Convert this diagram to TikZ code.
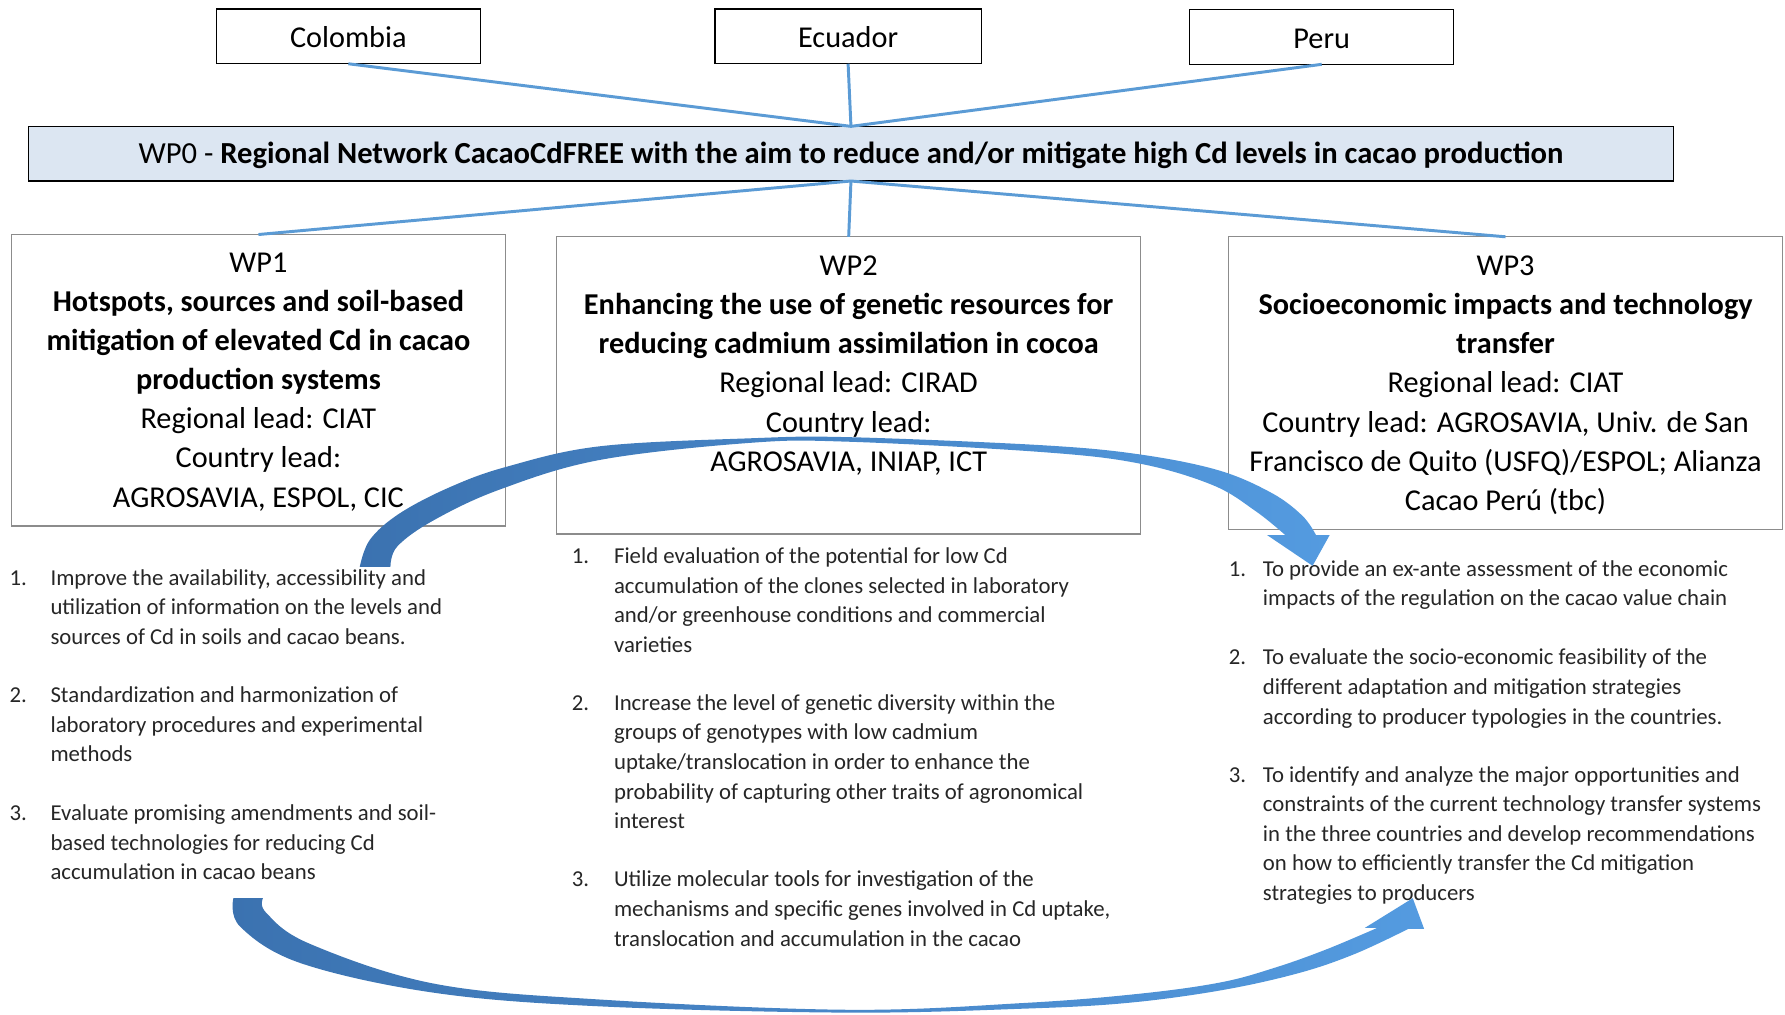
\documentclass[tikz,border=0pt]{standalone}
\usepackage{fontspec}
\setmainfont{Carlito}
\definecolor{connblue}{HTML}{5B9BD5}
\definecolor{wpfill}{HTML}{DCE6F2}
\definecolor{boxgray}{HTML}{8C8C8C}
\definecolor{listgray}{HTML}{262626}
\definecolor{arrdark}{HTML}{3B72B0}
\definecolor{arrlight}{HTML}{549BE0}
\newcommand\bxfont{\fontsize{13.3}{17.2}\selectfont}
\newcommand\barfont{\fontsize{13.45}{17.2}\selectfont}
\newcommand\lsfont{\fontsize{10}{13}\selectfont}
\begin{document}
\begin{tikzpicture}[x=0.5pt,y=-0.5pt,
  country/.style={draw=black,line width=0.6pt,fill=white,minimum width=116pt,minimum height=24pt,inner sep=0pt,outer sep=0pt,font=\bxfont,text height=11pt,text depth=1pt},
  wpbar/.style={draw=black,line width=0.6pt,fill=wpfill,minimum width=722.5pt,minimum height=24pt,inner sep=0pt,outer sep=0pt,font=\barfont,text height=10.5pt,text depth=1.5pt},
  wpbox/.style={draw=boxgray,line width=0.6pt,inner sep=0pt,outer sep=0pt},
  boxtxt/.style={anchor=base,font=\bxfont,inner sep=0pt},
  listtxt/.style={anchor=base west,font=\lsfont,text=listgray,inner sep=0pt},
  conn/.style={draw=connblue,line width=1.3pt},
  bigarrow/.style={left color=arrdark,right color=arrlight}]
\useasboundingbox (0,0) rectangle (1568,891);

% country boxes
\node[country] (col) at (306,32) {Colombia};
\node[country,minimum width=117pt] (ecu) at (745,32) {Ecuador};
\node[country] (per) at (1161,32.5) {Peru};

% WP0 bar
\node[wpbar] (wp0) at (747.5,135) {WP0 - \textbf{Regional Network CacaoCdFREE with the aim to reduce and/or mitigate high Cd levels in cacao production}};

% WP boxes
\node[wpbox,minimum width=217pt,minimum height=128pt] (wp1) at (227,334) {};
\node[wpbox,minimum width=256.5pt,minimum height=130.5pt] (wp2) at (745.5,338.5) {};
\node[wpbox,minimum width=243.5pt,minimum height=128.5pt] (wp3) at (1322.5,336.5) {};

% connectors
\draw[conn] (col.south) -- (wp0.north);
\draw[conn] (ecu.south) -- (wp0.north);
\draw[conn] (per.south) -- (wp0.north);
\draw[conn] (wp0.south) -- (wp1.north);
\draw[conn] (wp0.south) -- (wp2.north);
\draw[conn] (wp0.south) -- (wp3.north);

% WP box texts
\foreach \t [count=\i from 0] in {{WP1},{\bfseries Hotspots, sources and soil-based},{\bfseries mitigation of elevated Cd in cacao},{\bfseries production systems},{Regional lead: CIAT},{Country lead:},{AGROSAVIA, ESPOL, CIC}}
  \node[boxtxt] (wpa\i) at (227,{239+34.4*\i}) {\t};
\foreach \t [count=\i from 0] in {{WP2},{\bfseries Enhancing the use of genetic resources for},{\bfseries reducing cadmium assimilation in cocoa},{Regional lead: CIRAD},{Country lead:},{AGROSAVIA, INIAP, ICT}}
  \node[boxtxt] (wpb\i) at (745.5,{242+34.4*\i}) {\t};
\foreach \t [count=\i from 0] in {{WP3},{\bfseries Socioeconomic impacts and technology},{\bfseries transfer},{Regional lead: CIAT},{Country lead: AGROSAVIA, Univ. de San},{Francisco de Quito (USFQ)/ESPOL; Alianza},{Cacao Perú (tbc)}}
  \node[boxtxt] (wpc\i) at (1322.5,{242+34.4*\i}) {\t};

% WP1 list
\node[listtxt] (n11) at (8,514) {1.};
\node[listtxt] (n12) at (8,617) {2.};
\node[listtxt] (n13) at (8,721) {3.};
\foreach \t [count=\i from 0] in {{Improve the availability, accessibility and},{utilization of information on the levels and},{sources of Cd in soils and cacao beans.}}
  \node[listtxt] (la\i) at (44,{514+26*\i}) {\t};
\foreach \t [count=\i from 0] in {{Standardization and harmonization of},{laboratory procedures and experimental},{methods}}
  \node[listtxt] (lb\i) at (44,{617+26*\i}) {\t};
\foreach \t [count=\i from 0] in {{Evaluate promising amendments and soil-},{based technologies for reducing Cd},{accumulation in cacao beans}}
  \node[listtxt] (lc\i) at (44,{721+26*\i}) {\t};

% WP2 list
\node[listtxt] (n21) at (502,495) {1.};
\node[listtxt] (n22) at (502,624) {2.};
\node[listtxt] (n23) at (502,779) {3.};
\foreach \t [count=\i from 0] in {{Field evaluation of the potential for low Cd},{accumulation of the clones selected in laboratory},{and/or greenhouse conditions and commercial},{varieties}}
  \node[listtxt] (ld\i) at (539,{495+26*\i}) {\t};
\foreach \t [count=\i from 0] in {{Increase the level of genetic diversity within the},{groups of genotypes with low cadmium},{uptake/translocation in order to enhance the},{probability of capturing other traits of agronomical},{interest}}
  \node[listtxt] (le\i) at (539,{624+26*\i}) {\t};
\foreach \t [count=\i from 0] in {{Utilize molecular tools for investigation of the},{mechanisms and specific genes involved in Cd uptake,},{translocation and accumulation in the cacao}}
  \node[listtxt] (lf\i) at (539,{779+26*\i}) {\t};

% WP3 list
\node[listtxt] (n31) at (1079,506) {1.};
\node[listtxt] (n32) at (1079,584) {2.};
\node[listtxt] (n33) at (1079,687) {3.};
\foreach \t [count=\i from 0] in {{To provide an ex-ante assessment of the economic},{impacts of the regulation on the cacao value chain}}
  \node[listtxt] (lg\i) at (1109,{506+26*\i}) {\t};
\foreach \t [count=\i from 0] in {{To evaluate the socio-economic feasibility of the},{different adaptation and mitigation strategies},{according to producer typologies in the countries.}}
  \node[listtxt] (lh\i) at (1109,{584+26*\i}) {\t};
\foreach \t [count=\i from 0] in {{To identify and analyze the major opportunities and},{constraints of the current technology transfer systems},{in the three countries and develop recommendations},{on how to efficiently transfer the Cd mitigation},{strategies to producers}}
  \node[listtxt] (li\i) at (1109,{687+26*\i}) {\t};

% top curved arrow (WP1 -> WP3)
\shade[bigarrow] plot[smooth,tension=0.6] coordinates {(316,498) (325,474) (351,451) (395,428) (445,410) (527,392) (659,385) (745,384) (914,391) (1000,399) (1070,413) (1117,433) (1144,453) (1156,470)}
  -- (1168,470) -- (1153,497) -- (1113,470)
  -- plot[smooth,tension=0.6] coordinates {(1129,470) (1103,449) (1065,426) (1000,407) (914,397) (745,388) (659,389) (527,404) (439,430) (381,457) (349,480) (343,498)} -- cycle;

% bottom curved arrow (WP1 -> WP3)
\shade[bigarrow] plot[smooth,tension=0.6] coordinates {(231,789) (234,802) (272,829) (381,864) (527,878) (745,887) (900,881) (1000,873) (1072,863) (1120,850) (1165,834) (1210,815)}
  -- (1199,815) -- (1241,789) -- (1251,816)
  -- plot[smooth,tension=0.6] coordinates {(1237,816) (1190,838) (1140,855) (1072,870) (990,881) (900,886) (745,889.5) (527,884) (381,872) (264,846) (211,814) (205,789)} -- cycle;
\end{tikzpicture}
\end{document}
